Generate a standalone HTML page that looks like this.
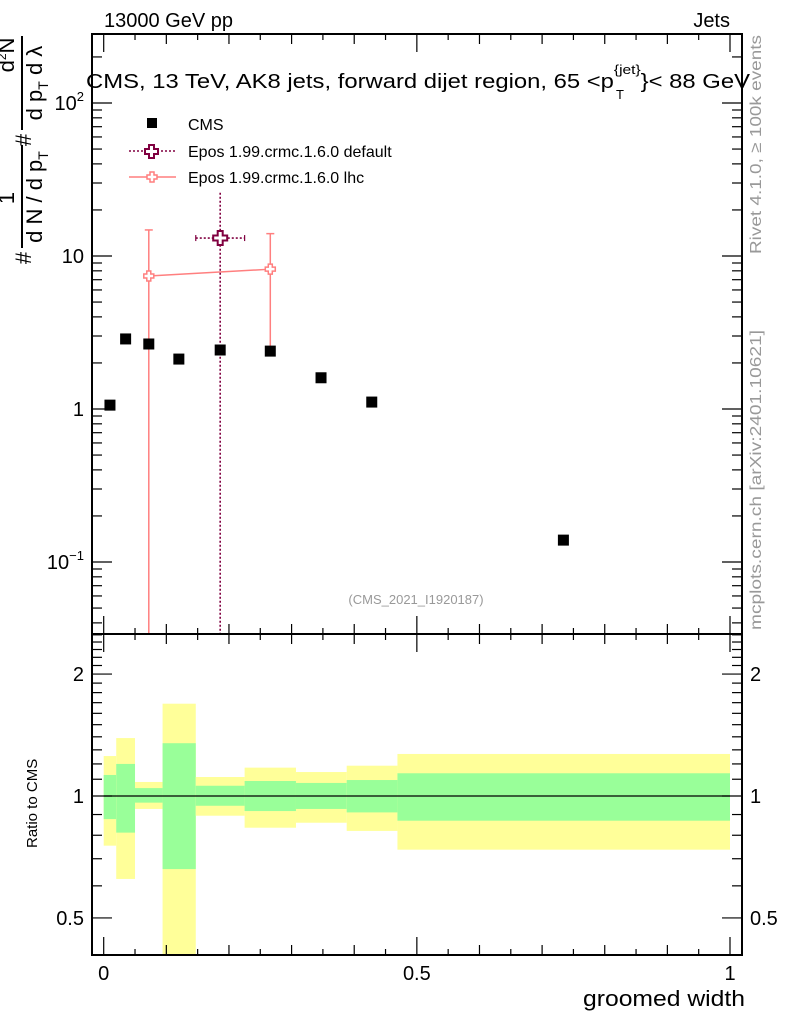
<!DOCTYPE html>
<html><head><meta charset="utf-8"><style>
html,body{margin:0;padding:0;background:#fff;}
svg{display:block;font-family:"Liberation Sans",sans-serif;}
</style></head><body>
<svg id="chart" width="786" height="1024" viewBox="0 0 786 1024" xmlns="http://www.w3.org/2000/svg">
<rect width="786" height="1024" fill="#fff"/>
<g id="ratio-bands"></g>
<g id="main-marks"></g>
<g id="axes"></g>
<text x="104" y="27" font-size="20">13000 GeV pp</text>
<text x="730" y="27" font-size="20" text-anchor="end">Jets</text>
<text x="86" y="88" font-size="20" textLength="664" lengthAdjust="spacingAndGlyphs">CMS, 13 TeV, AK8 jets, forward dijet region, 65 &lt;p<tspan font-size="13" dy="-14">{jet}</tspan><tspan dy="14">}&lt; 88 GeV</tspan></text>
<text x="616" y="99" font-size="13">T</text>
<g>
  <rect x="147" y="118" width="10" height="10" fill="#000"/>
  <text x="188" y="130" font-size="16">CMS</text>
  <line x1="129" y1="151" x2="176" y2="151" stroke="#800040" stroke-width="1.5" stroke-dasharray="2,2"/>
  <path d="M149,145h5v4h4v5h-4v4h-5v-4h-4v-5h4z" fill="#fff" stroke="#800040" stroke-width="2"/>
  <text x="188" y="157" font-size="16">Epos 1.99.crmc.1.6.0 default</text>
  <line x1="129" y1="177" x2="176" y2="177" stroke="#ff7f7f" stroke-width="1.5"/>
  <path d="M150,172h4v3h3v4h-3v3h-4v-3h-3v-4h3z" fill="#fff" stroke="#ff7f7f" stroke-width="1.5"/>
  <text x="188" y="183" font-size="16">Epos 1.99.crmc.1.6.0 lhc</text>
</g>
<text x="416" y="604" font-size="13" fill="#999" text-anchor="middle">(CMS_2021_I1920187)</text>
<text transform="translate(761,254) rotate(-90)" font-size="16" fill="#999" textLength="219" lengthAdjust="spacingAndGlyphs">Rivet 4.1.0, ≥ 100k events</text>
<text transform="translate(761,630) rotate(-90)" font-size="16" fill="#999" textLength="300" lengthAdjust="spacingAndGlyphs">mcplots.cern.ch [arXiv:2401.10621]</text>
<g font-size="22">
  <text transform="translate(31,258) rotate(-90)" text-anchor="middle">#</text>
  <text transform="translate(14,198) rotate(-90)" text-anchor="middle">1</text>
  <line x1="22" y1="248" x2="22" y2="145" stroke="#000" stroke-width="2"/>
  <text transform="translate(42,197) rotate(-90)" text-anchor="middle">d N / d p<tspan font-size="14" dy="6">T</tspan></text>
  <text transform="translate(31,140) rotate(-90)" text-anchor="middle">#</text>
  <text transform="translate(14,55) rotate(-90)" text-anchor="middle">d<tspan font-size="12" dy="-8">2</tspan><tspan dy="8">N</tspan></text>
  <line x1="22" y1="130" x2="22" y2="36" stroke="#000" stroke-width="2"/>
  <text transform="translate(42,83) rotate(-90)" text-anchor="middle">d p<tspan font-size="14" dy="6">T</tspan><tspan dy="-6">  d λ</tspan></text>
</g>
<text transform="translate(37,848) rotate(-90)" font-size="15">Ratio to CMS</text>
<text x="745" y="1006" font-size="22" text-anchor="end" textLength="162" lengthAdjust="spacingAndGlyphs">groomed width</text>
</svg>
<script>
const binEdges = [0, 0.02, 0.05, 0.094, 0.147, 0.225, 0.307, 0.388, 0.469, 1.0];
const cmsX = [0.01, 0.035, 0.072, 0.12, 0.186, 0.266, 0.347, 0.428, 0.734];
const cmsY = [1.06, 2.87, 2.66, 2.12, 2.43, 2.39, 1.6, 1.11, 0.139];
const yellowHi = [1.255, 1.39, 1.083, 1.69, 1.114, 1.175, 1.146, 1.188, 1.27];
const yellowLo = [0.754, 0.624, 0.929, 0.3, 0.894, 0.835, 0.859, 0.82, 0.737];
const greenHi = [1.127, 1.2, 1.046, 1.35, 1.06, 1.089, 1.077, 1.095, 1.138];
const greenLo = [0.877, 0.812, 0.963, 0.66, 0.946, 0.918, 0.929, 0.911, 0.869];
const eposDefX = [0.186];
const eposDefXlo = [0.147];
const eposDefXhi = [0.225];
const eposDefY = [13.1];
const eposDefYhi = [25.9];
const eposDefYlo = [0.001];
const eposLhcX = [0.072, 0.266];
const eposLhcY = [7.4, 8.2];
const eposLhcYhi = [14.8, 14.0];
const eposLhcYlo = [0.001, 2.36];
const xTickLabels = ["0", "0.5", "1"];
const xTickVals = [0, 0.5, 1];
const mainTickVals = [0.1, 1, 10, 100];
const mainTickBase = ["10", "1", "10", "10"];
const mainTickExp = ["−1", "", "", "2"];
const ratioTickVals = [0.5, 1, 2];
const ratioTickLabels = ["0.5", "1", "2"];

const NS = "http://www.w3.org/2000/svg";
const L = 92, R = 742, MT = 34, MB = 634, RT = 634, RB = 955;
function X(v){ return 103.7 + 626.3 * v; }
function Y(v){ return 256 - 153 * (Math.log10(v) - 1); }
function YR(v){ return 796 - 405 * Math.log10(v); }
function clampM(y){ return Math.max(MT, Math.min(MB, y)); }
function clampR(y){ return Math.max(RT, Math.min(RB, y)); }
function mk(tag, attrs, parent){
  const e = document.createElementNS(NS, tag);
  for (const k in attrs) e.setAttribute(k, attrs[k]);
  parent.appendChild(e); return e;
}
const bands = document.getElementById('ratio-bands');
const marks = document.getElementById('main-marks');
const axes = document.getElementById('axes');

for (let i = 0; i < binEdges.length - 1; i++) {
  const x0 = X(binEdges[i]), x1 = X(binEdges[i+1]);
  const yb = mk('rect', {x:x0, y:clampR(YR(yellowHi[i])), width:x1-x0, height:clampR(YR(yellowLo[i]))-clampR(YR(yellowHi[i])), fill:'#ffff99'}, bands);
  
  
  const gb = mk('rect', {x:x0, y:clampR(YR(greenHi[i])), width:x1-x0, height:clampR(YR(greenLo[i]))-clampR(YR(greenHi[i])), fill:'#99ff99'}, bands);
  
  
}
const ref = mk('line', {x1:X(0), x2:X(1), y1:YR(1), y2:YR(1), stroke:'#000', 'stroke-width':1.2}, bands);



const lp = eposLhcX.map((x,i)=>X(x)+','+Y(eposLhcY[i])).join(' ');
const lhcLine = mk('polyline', {points:lp, fill:'none', stroke:'#ff7f7f', 'stroke-width':1.5}, marks);


eposLhcX.forEach((x,i)=>{
  const px = X(x), yt = clampM(Y(eposLhcYhi[i])), yb = clampM(Y(eposLhcYlo[i]));
  const g = mk('g', {}, marks);
  
  
  mk('line', {x1:px, x2:px, y1:yt, y2:yb, stroke:'#ff7f7f', 'stroke-width':1.5}, g);
  mk('line', {x1:px-4, x2:px+4, y1:yt, y2:yt, stroke:'#ff7f7f', 'stroke-width':1.5}, g);
  if (yb < MB) mk('line', {x1:px-4, x2:px+4, y1:yb, y2:yb, stroke:'#ff7f7f', 'stroke-width':1.5}, g);
  const py = Y(eposLhcY[i]);
  mk('path', {d:`M${px-2},${py-5}h4v3h3v4h-3v3h-4v-3h-3v-4h3z`, fill:'#fff', stroke:'#ff7f7f', 'stroke-width':1.5}, g);
});
eposDefX.forEach((x,i)=>{
  const px = X(x), py = Y(eposDefY[i]);
  const g = mk('g', {}, marks);
  
  
  const st = {stroke:'#800040', 'stroke-width':1.6, 'stroke-dasharray':'2,2'};
  mk('line', Object.assign({x1:px, x2:px, y1:clampM(Y(eposDefYhi[i])), y2:clampM(Y(eposDefYlo[i]))}, st), g);
  mk('line', Object.assign({x1:X(eposDefXlo[i]), x2:X(eposDefXhi[i]), y1:py, y2:py}, st), g);
  mk('line', {x1:X(eposDefXlo[i]), x2:X(eposDefXlo[i]), y1:py-3, y2:py+3, stroke:'#800040', 'stroke-width':1.2}, g);
  mk('line', {x1:X(eposDefXhi[i]), x2:X(eposDefXhi[i]), y1:py-3, y2:py+3, stroke:'#800040', 'stroke-width':1.2}, g);
  mk('path', {d:`M${px-2.5},${py-7}h5v4.5h4.5v5h-4.5v4.5h-5v-4.5h-4.5v-5h4.5z`, fill:'#fff', stroke:'#800040', 'stroke-width':2}, g);
});
cmsX.forEach((x,i)=>{
  const r = mk('rect', {x:X(x)-5.5, y:Y(cmsY[i])-5.5, width:11, height:11, fill:'#000'}, marks);
  
  
});

const f1 = mk('rect', {x:L, y:MT, width:R-L, height:MB-MT, fill:'none', stroke:'#000', 'stroke-width':2}, axes);


const f2 = mk('rect', {x:L, y:RT, width:R-L, height:RB-RT, fill:'none', stroke:'#000', 'stroke-width':2}, axes);


function tick(x1,y1,x2,y2){ mk('line',{x1,y1,x2,y2,stroke:'#000','stroke-width':1.2},axes); }
for (let k = 0; k <= 20; k++) {
  const v = k*0.05, px = X(v);
  const len = (k%10===0) ? 18 : (k%2===0 ? 10 : 6);
  tick(px, MB, px, MB-len); tick(px, MT, px, MT+len);
  tick(px, RB, px, RB-len); tick(px, RT, px, RT+len);
}
xTickVals.forEach((v,i)=>{
  const t = mk('text', {x:X(v), y:980, 'font-size':20, 'text-anchor':'middle'}, axes);
  t.textContent = xTickLabels[i];
  
  
});
for (let d = -2; d <= 2; d++) for (let m = 1; m <= 9; m++) {
  const v = m*Math.pow(10,d), py = Y(v);
  if (py < MT || py > MB) continue;
  const len = m===1 ? 20 : 10;
  tick(L, py, L+len, py); tick(R, py, R-len, py);
}
mainTickVals.forEach((v,i)=>{
  const py = Y(v);
  const t = mk('text', {x:L-8, y:py+7, 'font-size':20, 'text-anchor':'end'}, axes);
  t.appendChild(document.createTextNode(mainTickBase[i]));
  if (mainTickExp[i]) {
    const s = mk('tspan', {'font-size':13, dy:-9}, t);
    s.textContent = mainTickExp[i];
  }
  
  
});
for (let k = 4; k <= 25; k++) {
  const v = k/10, py = YR(v);
  if (py < RT || py > RB) continue;
  const len = (v===0.5||v===1||v===2) ? 20 : 10;
  tick(L, py, L+len, py); tick(R, py, R-len, py);
}
ratioTickVals.forEach((v,i)=>{
  const py = YR(v);
  const t = mk('text', {x:L-8, y:py+7, 'font-size':20, 'text-anchor':'end'}, axes);
  t.textContent = ratioTickLabels[i];
  
  
  const t2 = mk('text', {x:R+8, y:py+7, 'font-size':20}, axes);
  t2.textContent = ratioTickLabels[i];
  
  
});
</script>
</body></html>
